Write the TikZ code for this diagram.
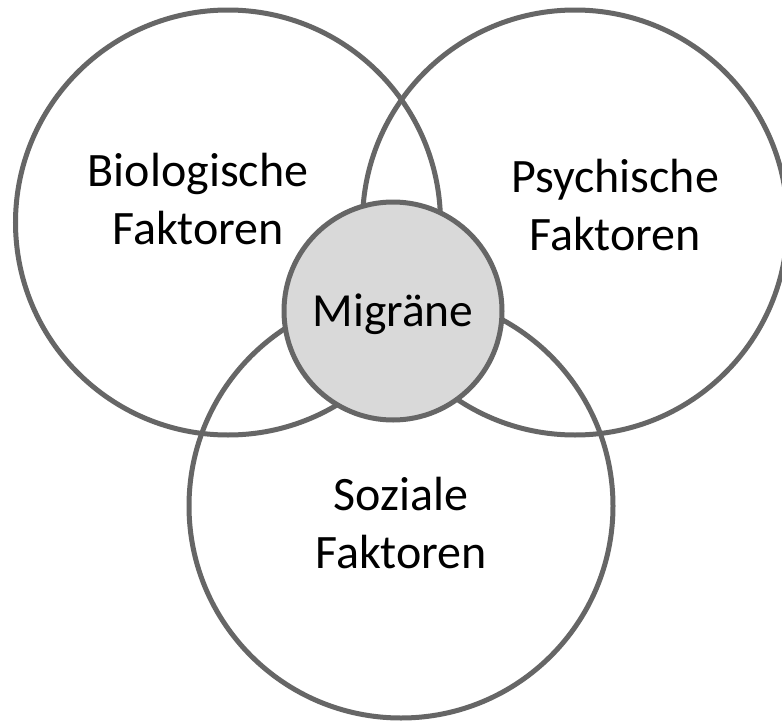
\documentclass[tikz,border=0pt]{standalone}
\usepackage{fontspec}
\setmainfont{Carlito}
\definecolor{ringgray}{HTML}{666666}
\definecolor{corefill}{HTML}{D9D9D9}
\begin{document}
\begin{tikzpicture}[x=1pt,y=-1pt,
  ring/.style={circle,draw=ringgray,line width=5pt,inner sep=0pt,outer sep=0pt},
  label/.style={align=center,text=black,inner sep=0pt,
    font=\fontsize{48}{58}\selectfont}]
  \fill[white] (0,0) rectangle (782,723);
  \useasboundingbox (0,0) rectangle (782,723);
  % the three factor circles
  \node[ring,minimum size=425pt] (bio) at (228,222.5) {};
  \node[ring,minimum size=425pt] (psy) at (575,222.5) {};
  \node[ring,minimum size=424pt] (soz) at (401,506) {};
  % central circle
  \node[ring,fill=corefill,minimum size=218pt,text height=30pt,text depth=0pt,
        font=\fontsize{47.5}{57}\selectfont] (mig) at (393,311) {Migräne};
  % factor labels
  \node[label] (biot) at (198,199.5) {Biologische\\Faktoren};
  \node[label] (psyt) at (615,205.5) {Psychische\\Faktoren};
  \node[label] (sozt) at (401,523) {Soziale\\Faktoren};
\end{tikzpicture}
\end{document}
